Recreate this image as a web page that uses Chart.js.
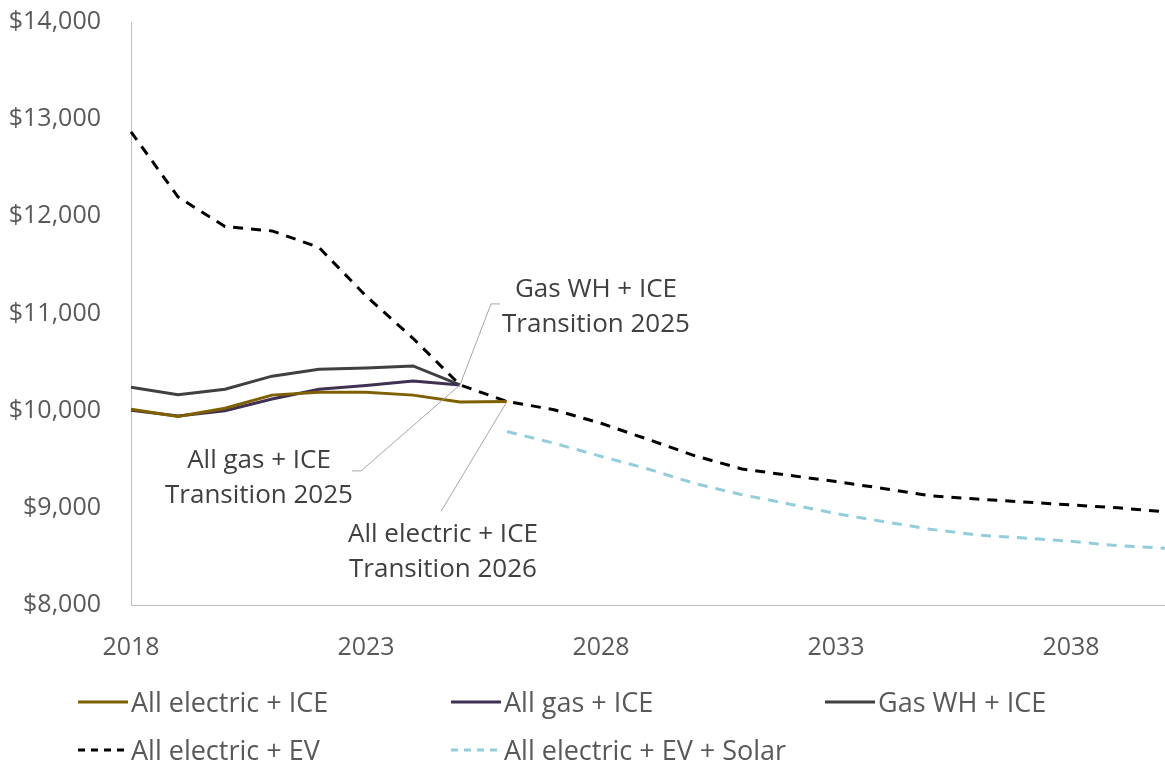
<!DOCTYPE html>
<html>
<head>
<meta charset="utf-8">
<script src="https://cdn.jsdelivr.net/npm/chart.js@4.4.1/dist/chart.umd.min.js"></script>
<style>
  body { margin: 0; background: #fff; }
</style>
</head>
<body>
<canvas id="costs" width="1165" height="765"></canvas>
<script>
// data
var years = ['2018', '2019', '2020', '2021', '2022', '2023', '2024', '2025', '2026', '2027', '2028',
  '2029', '2030', '2031', '2032', '2033', '2034', '2035', '2036', '2037', '2038', '2039', '2040'];

var allElectricIce = [10015, 9940, 10025, 10160, 10190, 10190, 10160, 10090, 10095];
var allGasIce = [10005, 9945, 10000, 10120, 10220, 10260, 10305, 10265];
var gasWhIce = [10240, 10165, 10220, 10355, 10425, 10440, 10460, 10265];
var allElectricEv = [12870, 12200, 11895, 11850, 11680, 11180, 10745, 10265, 10095, 10010, 9870,
  9705, 9535, 9400, 9335, 9270, 9200, 9125, 9090, 9060, 9030, 9000, 8960];
var allElectricEvSolar = [null, null, null, null, null, null, null, null, 9785, 9665, 9530,
  9400, 9250, 9135, 9040, 8940, 8860, 8780, 8720, 8690, 8655, 8610, 8585];

var yTicks = [8000, 9000, 10000, 11000, 12000, 13000, 14000];

// label callouts: which series/point the leader starts from
var callouts = [
  { ds: 2, idx: 7, lines: ['Gas WH + ICE', 'Transition 2025'], leader: [[31, -81], [40, -81]], text: [136, -95] },
  { ds: 1, idx: 7, lines: ['All gas + ICE', 'Transition 2025'], leader: [[-99, 86], [-108, 86]], text: [-201, 76] },
  { ds: 0, idx: 8, lines: ['All electric + ICE', 'Transition 2026'], leader: [[-66, 110]], text: [-64, 133] }
];

Chart.defaults.font.family = "'Open Sans', sans-serif";
Chart.defaults.font.size = 25;
Chart.defaults.color = '#595959';

function line(label, data, color, dash) {
  return {
    label: label,
    data: data,
    borderColor: color,
    backgroundColor: color,
    borderWidth: 3,
    borderDash: dash || [],
    pointRadius: 0,
    tension: 0,
    fill: false
  };
}

var calloutPlugin = {
  id: 'callouts',
  afterDatasetsDraw: function (chart) {
    var ctx = chart.ctx;
    var xs = chart.scales.x, ys = chart.scales.y;
    ctx.save();
    callouts.forEach(function (c) {
      var ax = xs.getPixelForValue(c.idx);
      var ay = ys.getPixelForValue(chart.data.datasets[c.ds].data[c.idx]);
      ctx.strokeStyle = '#a6a6a6';
      ctx.lineWidth = 1;
      ctx.setLineDash([]);
      ctx.beginPath();
      ctx.moveTo(ax, ay);
      c.leader.forEach(function (p) { ctx.lineTo(ax + p[0], ay + p[1]); });
      ctx.stroke();
      ctx.fillStyle = '#404040';
      ctx.font = "26px 'Open Sans', sans-serif";
      ctx.textAlign = 'center';
      ctx.textBaseline = 'middle';
      c.lines.forEach(function (t, i) {
        ctx.fillText(t, ax + c.text[0], ay + c.text[1] + i * 35);
      });
    });
    ctx.restore();
  }
};

// excel style legend, 3 columns
var legendSpots = [[78, 704], [451, 704], [825, 704], [78, 752], [451, 752]];

var legendPlugin = {
  id: 'gridLegend',
  afterDraw: function (chart) {
    var ctx = chart.ctx;
    ctx.save();
    chart.data.datasets.forEach(function (ds, i) {
      var x = legendSpots[i][0], y = legendSpots[i][1];
      ctx.strokeStyle = ds.borderColor;
      ctx.lineWidth = 3;
      ctx.setLineDash(ds.borderDash.length ? [7, 6] : []);
      ctx.beginPath();
      ctx.moveTo(x, y - 2);
      ctx.lineTo(x + 50, y - 2);
      ctx.stroke();
      ctx.fillStyle = '#595959';
      ctx.font = "27px 'Open Sans', sans-serif";
      ctx.textAlign = 'left';
      ctx.textBaseline = 'middle';
      ctx.fillText(ds.label, x + 53, y);
    });
    ctx.restore();
  }
};

new Chart(document.getElementById('costs'), {
  type: 'line',
  data: {
    labels: years,
    datasets: [
      line('All electric + ICE', allElectricIce, '#7f6000'),
      line('All gas + ICE', allGasIce, '#403152'),
      line('Gas WH + ICE', gasWhIce, '#404040'),
      line('All electric + EV', allElectricEv, '#000000', [10, 8]),
      line('All electric + EV + Solar', allElectricEvSolar, '#92cddc', [10, 8])
    ]
  },
  options: {
    responsive: false,
    animation: false,
    layout: { padding: { top: 22, right: 0, left: 0, bottom: 0 } },
    plugins: {
      legend: { display: false },
      tooltip: { enabled: false }
    },
    scales: {
      x: {
        // invisible tick marks give the label gap without padding the plot edges
        grid: { display: true, drawOnChartArea: false, drawTicks: true, tickLength: 28, tickColor: 'rgba(0,0,0,0)' },
        border: { display: true, color: '#bfbfbf', width: 1 },
        ticks: {
          autoSkip: false,
          maxRotation: 0,
          minRotation: 0,
          padding: 0,
          callback: function (v, i) { return i % 5 == 0 ? this.getLabelForValue(v) : ''; }
        },
        afterFit: function (s) { s.height = 160; }
      },
      y: {
        min: yTicks[0],
        max: yTicks[yTicks.length - 1],
        grid: { display: true, drawOnChartArea: false, drawTicks: true, tickLength: 30, tickColor: 'rgba(0,0,0,0)' },
        border: { display: true, color: '#bfbfbf', width: 1 },
        ticks: {
          stepSize: 1000,
          padding: 0,
          callback: function (v) { return '$' + v.toLocaleString('en-US'); }
        },
        afterFit: function (s) { s.width = 131; }
      }
    }
  },
  plugins: [calloutPlugin, legendPlugin]
});
</script>
</body>
</html>
